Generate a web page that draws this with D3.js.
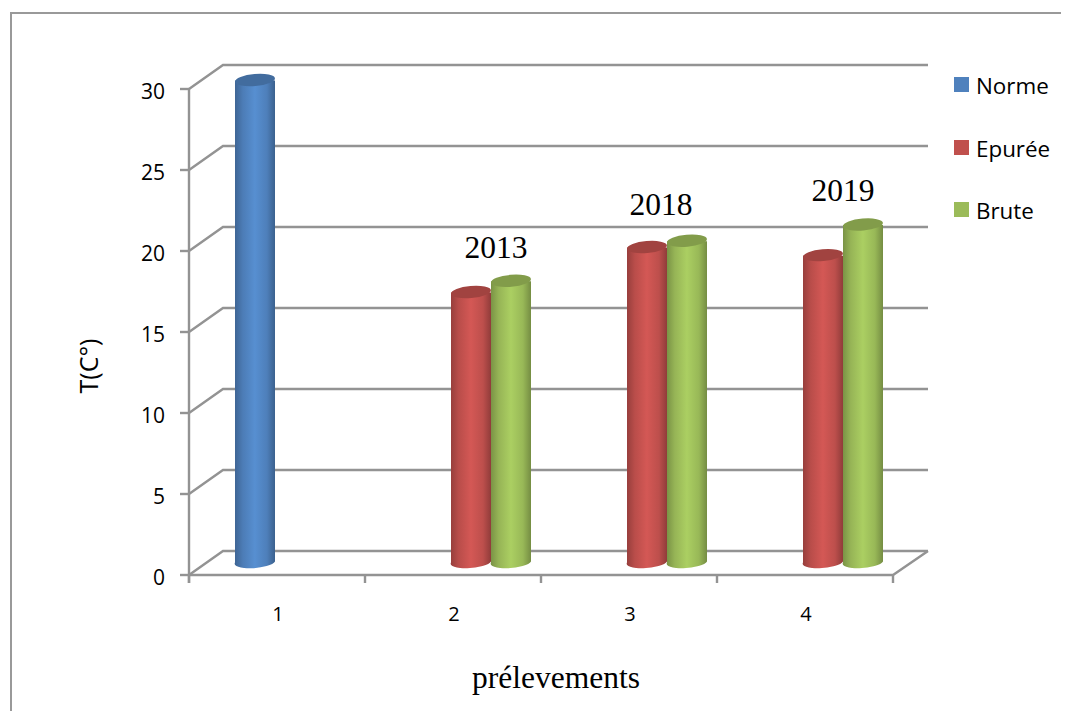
<!DOCTYPE html>
<html>
<head>
<meta charset="utf-8">
<script src="https://cdn.jsdelivr.net/npm/d3@7"></script>
<style>
  html, body { margin: 0; padding: 0; background: #fff; }
  svg { display: block; }
  text { fill: #000; }
</style>
</head>
<body>
<svg id="chart" width="1072" height="711"></svg>
<script>
// Sampling temperatures per campaign, drawn as pseudo-3D cylinders.
const categories = ["1", "2", "3", "4"];
const seriesNames = ["Norme", "Epurée", "Brute"];
const seriesColors = ["#4F81BD", "#C0504D", "#9BBB59"];
const norme = [30, null, null, null];
const epuree = [null, 16.8, 19.6, 19.1];
const brute = [null, 17.5, 20, 21];
const yTicks = [0, 5, 10, 15, 20, 25, 30];
const yearLabels = ["2013", "2018", "2019"];
const yearCategories = ["2", "3", "4"];
const yearValues = [18.98, 21.6, 22.5];

const W = 1072, H = 711;
const svg = d3.select("#chart");

// Front plane and back-wall offset of the box.
const front = { left: 189, right: 893, bottom: 575, top: 89 };
const depth = { x: 34, y: -24 };

const x = d3.scaleBand().domain(categories).range([front.left, front.right]);
const inner = d3.scaleBand().domain(seriesNames).range([46, 166]);
const yAxisScale = d3.scaleLinear().domain([0, 30]).range([front.bottom, front.top]);
// Cylinders stand inside the box, so their own baseline sits behind the front plane.
const yBar = d3.scaleLinear().domain([0, 30]).range([562.5, 80.5]);

const grey = "#939393";

// Outer frame: left and top edges only.
svg.append("path")
  .attr("d", `M11,${H} V13 H1061`)
  .attr("fill", "none").attr("stroke", "#999").attr("stroke-width", 2);

// Gradients that give each cylinder its rounded look.
const defs = svg.append("defs");
seriesNames.forEach((name, i) => {
  const base = d3.color(seriesColors[i]);
  const g = defs.append("linearGradient").attr("id", "body" + i)
    .attr("x1", 0).attr("x2", 1).attr("y1", 0).attr("y2", 0);
  [[0, base.darker(0.7)], [0.2, base.darker(0.1)], [0.5, base.brighter(0.28)],
   [0.8, base.darker(0.05)], [1, base.darker(0.8)]].forEach(([o, c]) => {
    g.append("stop").attr("offset", o).attr("stop-color", c);
  });
});

// Back wall gridlines and the side wall slants.
const grid = svg.append("g").attr("stroke", grey).attr("stroke-width", 2.4).attr("fill", "none");
yTicks.forEach(t => {
  const yy = yAxisScale(t);
  grid.append("path")
    .attr("d", `M${front.left},${yy} L${front.left + depth.x},${yy + depth.y} H${front.right + depth.x + 1}`);
});
// Floor edges.
grid.append("path")
  .attr("d", `M${front.left},${front.bottom} H${front.right} L${front.right + depth.x + 1},${front.bottom + depth.y}`);

// Axis lines with outward ticks.
const axisG = svg.append("g").attr("stroke", grey).attr("stroke-width", 2.4).attr("fill", "none");
axisG.append("path").attr("d", `M${front.left},${front.top} V${front.bottom + 8}`);
yTicks.forEach(t => {
  axisG.append("path").attr("d", `M${front.left - 9},${yAxisScale(t)} H${front.left}`);
});
categories.concat("end").forEach((c, i) => {
  const px = front.left + i * x.bandwidth();
  axisG.append("path").attr("d", `M${px},${front.bottom} V${front.bottom + 8}`);
});

// Cylinders, painted left to right so each overlaps its left neighbour.
const barW = inner.bandwidth();
const tilt = -5;
const rows = [norme, epuree, brute];
const bars = [];
categories.forEach((c, ci) => {
  rows.forEach((vals, si) => {
    if (vals[ci] !== null) bars.push({ c, si, name: seriesNames[si], v: vals[ci] });
  });
});
const barG = svg.append("g");
bars.forEach(d => {
  const left = x(d.c) + inner(d.name);
  const cx = left + barW / 2;
  const top = yBar(d.v), bottom = yBar(0);
  const g = barG.append("g");
  const rx = barW / 2, ry = 6;
  g.append("path")
    .attr("d", `M${left},${top} V${bottom} A${rx},${ry} ${tilt} 0 0 ${left + barW},${bottom - 1} V${top} Z`)
    .attr("fill", `url(#body${d.si})`);
  g.append("ellipse")
    .attr("cx", cx).attr("cy", top - 0.5)
    .attr("rx", rx).attr("ry", ry)
    .attr("transform", `rotate(${tilt} ${cx} ${top - 0.5})`)
    .attr("fill", d3.color(seriesColors[d.si]).darker(0.5));
});

// Axis tick labels.
const tickFont = "'Open Sans', sans-serif";
svg.append("g").selectAll("text").data(yTicks).join("text")
  .attr("x", 165).attr("y", d => yAxisScale(d) + 10)
  .attr("text-anchor", "end")
  .attr("font-family", tickFont).attr("font-size", 21).text(d => d);
svg.append("g").selectAll("text").data(categories).join("text")
  .attr("x", d => x(d) + x.bandwidth() / 2 + 1)
  .attr("y", 621).attr("text-anchor", "middle")
  .attr("font-family", tickFont).attr("font-size", 20).text(d => d);

// Axis titles.
svg.append("text")
  .attr("transform", "translate(98,366) rotate(-90)")
  .attr("text-anchor", "middle")
  .attr("font-family", tickFont).attr("font-size", 25).text("T(C°)");
svg.append("text")
  .attr("x", 556).attr("y", 688).attr("text-anchor", "middle")
  .attr("font-family", "'Liberation Serif', serif").attr("font-size", 31.5).text("prélevements");

// Year annotations above each group.
const yearShift = [131, 120, 126];
svg.append("g").selectAll("text").data(yearLabels).join("text")
  .attr("x", (d, i) => x(yearCategories[i]) + yearShift[i])
  .attr("y", (d, i) => yBar(yearValues[i]))
  .attr("text-anchor", "middle")
  .attr("font-family", "'Liberation Serif', serif").attr("font-size", 31.5).text(d => d);

// Legend.
const legend = svg.append("g").selectAll("g").data(seriesNames).join("g")
  .attr("transform", (d, i) => `translate(954,${[77, 140, 202][i]})`);
legend.append("rect").attr("width", 15).attr("height", 15)
  .attr("fill", (d, i) => seriesColors[i]);
legend.append("text").attr("x", 22).attr("y", 17)
  .attr("font-family", tickFont).attr("font-size", 22.4).text(d => d);
</script>
</body>
</html>
